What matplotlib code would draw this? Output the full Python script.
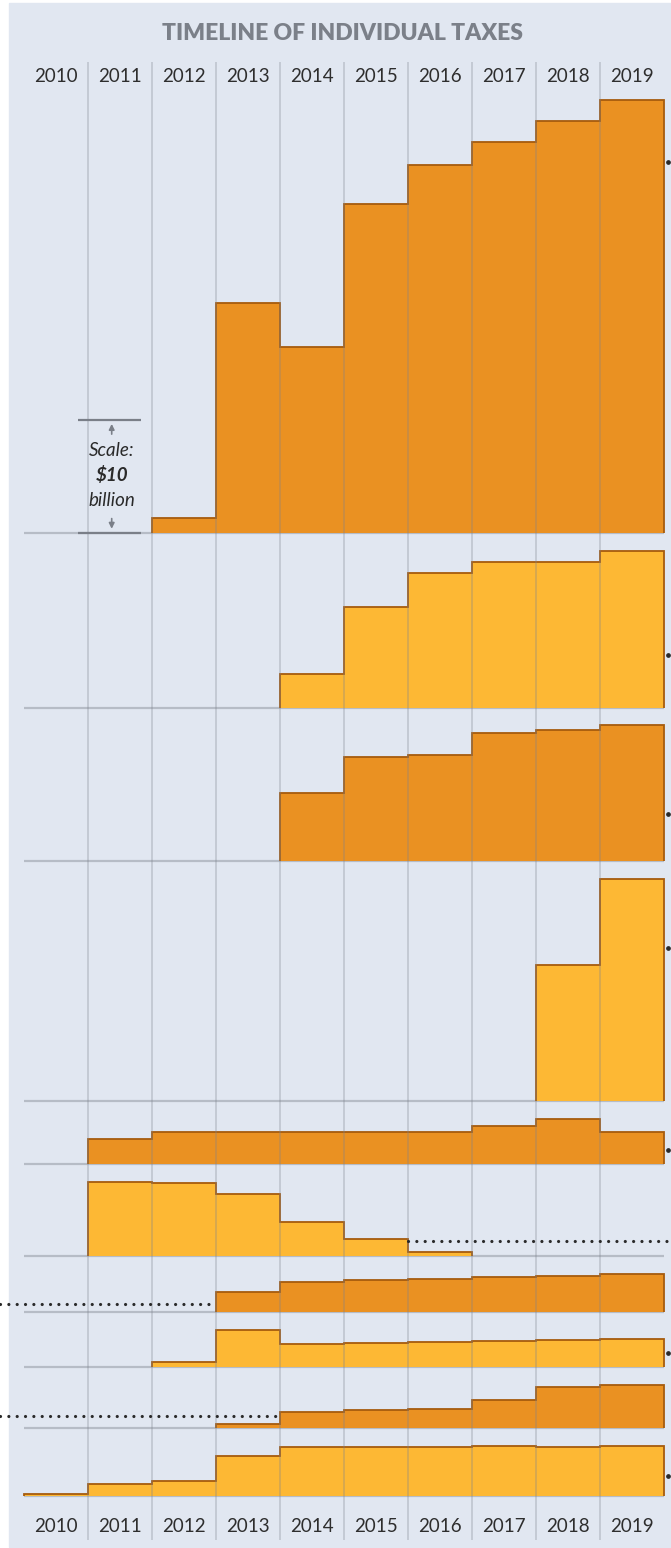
import numpy as np
import matplotlib.pyplot as plt
from matplotlib.patches import Rectangle

plt.rcParams['font.family'] = ['Lato', 'DejaVu Sans']

# --- data ($ billions per year, starting at the first year collected) ---
years = np.arange(2010, 2020)
year_labels = [str(y) for y in years]

tax_1 = [1.3, 20.4, 16.5, 29.2, 32.6, 34.7, 36.5, 38.4]
tax_2 = [3.0, 9.0, 12.0, 12.95, 12.95, 13.95]
tax_3 = [6.05, 9.25, 9.45, 11.35, 11.65, 12.05]
tax_4 = [12.1, 19.7]
tax_5 = [2.2, 2.87, 2.87, 2.87, 2.87, 2.87, 3.4, 3.97, 2.87]
tax_6 = [6.6, 6.48, 5.47, 3.0, 1.48, 0.38]
tax_7 = [1.8, 2.72, 2.84, 2.98, 3.1, 3.22, 3.42]
tax_8 = [0.42, 3.31, 2.01, 2.13, 2.22, 2.31, 2.42, 2.51]
tax_9 = [0.41, 1.47, 1.6, 1.71, 2.51, 3.69, 3.87]
tax_10 = [0.2, 1.04, 1.33, 3.55, 4.35, 4.35, 4.35, 4.46, 4.35, 4.46]

series = [tax_1, tax_2, tax_3, tax_4, tax_5, tax_6, tax_7, tax_8, tax_9, tax_10]
start_years = [2012, 2014, 2014, 2018, 2011, 2011, 2013, 2012, 2013, 2010]

# leader lines to the (cropped) labels: height in $bn above the baseline,
# kind, and the year where a long dotted leader starts / stops
leader_levels = [32.9, 4.7, 4.2, 13.6, 1.24, 1.33, 0.74, 1.27, 1.09, 1.77]
leader_kinds = ['end', 'end', 'end', 'end', 'end', 'right', 'left', 'end', 'left', 'end']
leader_years = [None, None, None, None, None, 2016, 2013, None, 2014, None]

# --- layout (pixels) ---
W, H = 671, 1548
PXB = 11.27          # pixels per $1 billion
X0, COL = 24, 64     # left edge of 2010, width of one year
baselines_px = [532.7, 708, 861.3, 1101.3, 1164, 1256, 1312.3, 1367, 1428.3, 1496]

BG = '#e1e7f1'
DARK = '#ea9122'
LIGHT = '#fdb834'
EDGE = '#a65b0d'
GRID = '#7d838e'
INK = '#2a2a2a'


def row(p):
    # pixel row -> axis units
    return (H - p) / PXB


fig = plt.figure(figsize=(W / 100, H / 100), dpi=100)
fig.patches.append(Rectangle((9 / W, 1 / H), (W - 9) / W, (H - 4) / H,
                             transform=fig.transFigure, color=BG, zorder=-10))
ax = fig.add_axes([0, 0, 1, 1])
ax.set_xlim(2010 - X0 / COL, 2010 + (W - X0) / COL)
ax.set_ylim(0, H / PXB)
ax.axis('off')

# title and year labels
ax.text(2014.97, row(34), 'TIMELINE OF INDIVIDUAL TAXES', ha='center', va='center',
        fontsize=16.5, fontweight='heavy', color='#7b8089')
for y, lab in zip(years, year_labels):
    for p in (77, 1527):
        ax.text(y + 0.5, row(p), lab, ha='center', va='center', fontsize=13.5,
                fontweight='normal', color='#2e2e2e')

# vertical year separators
ax.vlines(years[1:], row(1540), row(62), color=GRID, alpha=0.32, lw=1.3, zorder=4)

for i, (vals, start) in enumerate(zip(series, start_years)):
    base = row(baselines_px[i])
    color = DARK if i % 2 == 0 else LIGHT
    ax.hlines(base, 2010, 2020, color='#8d939d', alpha=0.5, lw=1.6, zorder=2)
    edges = np.arange(start, start + len(vals) + 1)
    ax.stairs(np.array(vals) + base, edges, baseline=base, fill=True,
              facecolor=color, edgecolor=EDGE, lw=1.3, zorder=3)

    lvl = base + leader_levels[i]
    kind = leader_kinds[i]
    if kind == 'end':
        ax.plot(2020.06, lvl, 'o', ms=2.4, color=INK, zorder=6, clip_on=False)
    else:
        if kind == 'left':
            x0, x1 = ax.get_xlim()[0], leader_years[i]
        else:
            x0, x1 = leader_years[i], ax.get_xlim()[1]
        ax.plot([x0, x1], [lvl, lvl], color=INK, lw=2.3, ls=(0, (0.01, 2.6)),
                dash_capstyle='round', zorder=6, clip_on=False)

# scale bar: $10 billion on the first panel
b0 = row(baselines_px[0])
sx = 2010 + (111.7 - X0) / COL
ax.hlines([b0, b0 + 10], 2010 + (78 - X0) / COL, 2010 + (141 - X0) / COL,
          color='#7a7f88', lw=1.6, zorder=5)
ax.annotate('', xy=(sx, b0 + 9.9), xytext=(sx, b0 + 8.5),
            arrowprops=dict(arrowstyle='-|>', color='#7a7f88', lw=1.2, mutation_scale=8))
ax.annotate('', xy=(sx, b0 + 0.1), xytext=(sx, b0 + 1.5),
            arrowprops=dict(arrowstyle='-|>', color='#7a7f88', lw=1.2, mutation_scale=8))
ax.text(sx, row(450), 'Scale:', ha='center', va='center', style='italic',
        fontsize=13.5, color=INK)
ax.text(sx, row(475), '\\$10', ha='center', va='center', style='italic',
        fontsize=13.5, fontweight='bold', color=INK)
ax.text(sx, row(500), 'billion', ha='center', va='center', style='italic',
        fontsize=13.5, color=INK)

fig.savefig('out.png', dpi=100, facecolor='white')
